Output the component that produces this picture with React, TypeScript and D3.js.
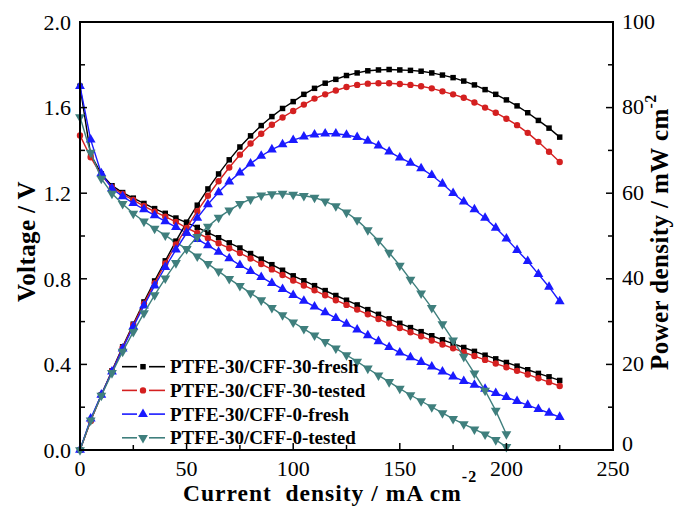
import React from "react";
import * as d3 from "d3";

// current density (mA cm-2)
const current = [
  0, 5, 10, 15, 20, 25, 30, 35, 40, 45, 50, 55, 60, 65, 70, 75, 80, 85, 90, 95,
  100, 105, 110, 115, 120, 125, 130, 135, 140, 145, 150, 155, 160, 165, 170,
  175, 180, 185, 190, 195, 200, 205, 210, 215, 220, 225,
];

// voltage (V)
const voltFresh30 = [
  1.7, 1.38, 1.29, 1.235, 1.203, 1.177, 1.152, 1.128, 1.106, 1.084, 1.063,
  1.04, 1.016, 0.992, 0.968, 0.944, 0.918, 0.892, 0.866, 0.84, 0.814, 0.791,
  0.768, 0.745, 0.722, 0.7, 0.678, 0.656, 0.634, 0.613, 0.592, 0.572, 0.553,
  0.534, 0.515, 0.497, 0.479, 0.461, 0.443, 0.426, 0.409, 0.392, 0.375, 0.358,
  0.342, 0.325,
];
const voltTested30 = [
  1.47, 1.368, 1.283, 1.228, 1.196, 1.168, 1.14, 1.114, 1.09, 1.066, 1.038,
  1.014, 0.99, 0.966, 0.943, 0.92, 0.895, 0.869, 0.844, 0.818, 0.792, 0.769,
  0.746, 0.723, 0.7, 0.678, 0.656, 0.634, 0.612, 0.591, 0.57, 0.55, 0.531,
  0.512, 0.493, 0.475, 0.457, 0.439, 0.421, 0.404, 0.387, 0.37, 0.353, 0.335,
  0.317, 0.299,
];
const voltFresh0 = [
  1.7, 1.45, 1.292, 1.222, 1.185, 1.153, 1.124, 1.096, 1.068, 1.041, 1.014,
  0.985, 0.956, 0.926, 0.895, 0.864, 0.836, 0.808, 0.78, 0.752, 0.724, 0.697,
  0.67, 0.643, 0.616, 0.589, 0.562, 0.535, 0.508, 0.481, 0.455, 0.433, 0.411,
  0.389, 0.366, 0.343, 0.322, 0.304, 0.285, 0.266, 0.247, 0.228, 0.21, 0.191,
  0.173, 0.154,
];
const voltTested0 = [
  1.556, 1.39, 1.268, 1.198, 1.15, 1.105, 1.068, 1.035, 1.003, 0.97, 0.94,
  0.905, 0.87, 0.835, 0.8, 0.767, 0.733, 0.7, 0.664, 0.63, 0.597, 0.566,
  0.536, 0.505, 0.475, 0.444, 0.413, 0.381, 0.349, 0.318, 0.287, 0.257, 0.229,
  0.201, 0.173, 0.146, 0.121, 0.097, 0.073, 0.047, 0.015,
];

// power density (mW cm-2)
const powFresh30 = [
  0, 6.9, 12.9, 18.5, 24.1, 29.4, 34.6, 39.5, 44.2, 48.8, 53.2, 57.2, 61.0,
  64.5, 67.8, 70.8, 73.4, 75.8, 77.9, 79.8, 81.4, 83.1, 84.5, 85.7, 86.6, 87.5,
  88.1, 88.6, 88.8, 88.9, 88.8, 88.7, 88.5, 88.1, 87.6, 87.0, 86.2, 85.3, 84.2,
  83.1, 81.8, 80.4, 78.8, 77.0, 75.2, 73.1,
];
const powTested30 = [
  0, 6.8, 12.8, 18.4, 23.9, 29.2, 34.2, 39.0, 43.6, 48.0, 51.9, 55.8, 59.4,
  62.8, 66.0, 69.0, 71.6, 73.9, 76.0, 77.7, 79.2, 80.7, 82.1, 83.1, 84.0, 84.8,
  85.3, 85.6, 85.7, 85.7, 85.5, 85.3, 85.0, 84.5, 83.8, 83.1, 82.3, 81.2, 80.0,
  78.8, 77.4, 75.9, 74.1, 72.0, 69.7, 67.3,
];
const powFresh0 = [
  0, 7.3, 12.9, 18.3, 23.7, 28.8, 33.7, 38.4, 42.7, 46.8, 50.7, 54.2, 57.4,
  60.2, 62.7, 64.8, 66.9, 68.7, 70.2, 71.4, 72.4, 73.2, 73.7, 73.9, 73.9, 73.6,
  73.1, 72.2, 71.1, 69.7, 68.3, 67.1, 65.8, 64.2, 62.2, 60.0, 58.0, 56.2, 54.2,
  51.9, 49.4, 46.7, 44.1, 41.1, 38.1, 34.7,
];
const powTested0 = [
  0, 6.95, 12.7, 18.0, 23.0, 27.6, 32.0, 36.2, 40.1, 43.7, 47.0, 49.8, 52.2,
  54.3, 56.0, 57.5, 58.6, 59.5, 59.8, 59.9, 59.7, 59.4, 59.0, 58.1, 57.0, 55.5,
  53.7, 51.4, 48.9, 46.1, 43.1, 39.8, 36.6, 33.2, 29.4, 25.6, 21.8, 17.9, 13.9,
  9.2, 3.7,
];

const seriesNames = [
  "PTFE-30/CFF-30-fresh",
  "PTFE-30/CFF-30-tested",
  "PTFE-30/CFF-0-fresh",
  "PTFE-30/CFF-0-tested",
];
const seriesColors = ["#000000", "#d42020", "#1a1aff", "#3f7f7d"];

const xTicks = [0, 50, 100, 150, 200, 250];
const yTicks = [0, 0.4, 0.8, 1.2, 1.6, 2.0];
const y2Ticks = [0, 20, 40, 60, 80, 100];

const W = 686;
const H = 506;
const FONT = '"Liberation Serif", "Times New Roman", serif';
const m = { left: 80, top: 22, right: 613, bottom: 450 };

const x = d3.scaleLinear().domain([0, 250]).range([m.left, m.right]);
const yV = d3.scaleLinear().domain([0, 2]).range([m.bottom, m.top]);
const yP = d3.scaleLinear().domain([0, 100]).range([m.bottom, m.top]);

const symbols = [
  d3.symbol().type(d3.symbolSquare).size(30)(),
  d3.symbol().type(d3.symbolCircle).size(32)(),
  d3.symbol().type(d3.symbolTriangle).size(42)(),
  d3.symbol().type(d3.symbolTriangle).size(42)(),
];
const symRotate = [0, 0, 0, 180];

const volts = [voltFresh30, voltTested30, voltFresh0, voltTested0];
const pows = [powFresh30, powTested30, powFresh0, powTested0];

function Series({ idx, values, scale }) {
  const pts = values.map((v, i) => [x(current[i]), scale(v)]);
  const line = d3.line()(pts);
  return (
    <g>
      <path d={line} fill="none" stroke={seriesColors[idx]} strokeWidth={1.4} />
      {pts.map((p, i) => (
        <path
          key={i}
          d={symbols[idx]}
          fill={seriesColors[idx]}
          transform={`translate(${p[0]},${p[1]}) rotate(${symRotate[idx]})`}
        />
      ))}
    </g>
  );
}

export default function App() {
  const xMinor = d3.range(0, 251, 25);
  const yMinor = d3.range(0, 2.01, 0.2);
  const y2Minor = d3.range(0, 101, 10);
  return (
    <svg
      width={W}
      height={H}
      style={{ position: "absolute", left: 0, top: 0, background: "#fff" }}
      fontFamily={FONT}
    >
      {/* series: voltage then power */}
      {volts.map((v, i) => (
        <Series key={"v" + i} idx={i} values={v} scale={yV} />
      ))}
      {pows.map((p, i) => (
        <Series key={"p" + i} idx={i} values={p} scale={yP} />
      ))}

      {/* frame */}
      <rect
        x={m.left}
        y={m.top}
        width={m.right - m.left}
        height={m.bottom - m.top}
        fill="none"
        stroke="#000"
        strokeWidth={2}
      />

      {/* ticks, inward */}
      {xMinor.map((t) => (
        <line
          key={"xt" + t}
          x1={x(t)}
          x2={x(t)}
          y1={m.bottom}
          y2={m.bottom - (t % 50 === 0 ? 7 : 5)}
          stroke="#000"
          strokeWidth={1.5}
        />
      ))}
      {yMinor.map((t, i) => (
        <line
          key={"yt" + i}
          x1={m.left}
          x2={m.left + (i % 2 === 0 ? 7 : 5)}
          y1={yV(t)}
          y2={yV(t)}
          stroke="#000"
          strokeWidth={1.5}
        />
      ))}
      {y2Minor.map((t) => (
        <line
          key={"y2t" + t}
          x1={m.right}
          x2={m.right - (t % 20 === 0 ? 7 : 5)}
          y1={yP(t)}
          y2={yP(t)}
          stroke="#000"
          strokeWidth={1.5}
        />
      ))}

      {/* tick labels */}
      {xTicks.map((t) => (
        <text key={"xl" + t} x={x(t)} y={476} textAnchor="middle" fontSize={22}>
          {t}
        </text>
      ))}
      {yTicks.map((t) => (
        <text
          key={"yl" + t}
          x={71}
          y={yV(t)}
          dy="0.35em"
          textAnchor="end"
          fontSize={22}
        >
          {t.toFixed(1)}
        </text>
      ))}
      {y2Ticks.map((t) => (
        <text key={"y2l" + t} x={622} y={yP(t)} dy={t === 0 ? "0.05em" : "0.3em"} fontSize={22}>
          {t}
        </text>
      ))}

      {/* axis titles */}
      <text x={183} y={500.5} fontSize={23.5} fontWeight="bold" xmlSpace="preserve" letterSpacing={1}>
        Current  density / mA cm
        <tspan fontSize={16} dy={-19}>
          -2
        </tspan>
      </text>
      <text
        transform="translate(35,302) rotate(-90)"
        fontSize={25}
        fontWeight="bold"
        letterSpacing={0.4}
      >
        Voltage / V
      </text>
      <text
        transform="translate(668,370) rotate(-90)"
        fontSize={25}
        fontWeight="bold"
        letterSpacing={0.4}
      >
        Power density / mW cm
        <tspan fontSize={16} dy={-12}>
          -2
        </tspan>
      </text>

      {/* legend */}
      {seriesNames.map((name, i) => {
        const ly = 366.7 + i * 23.7;
        return (
          <g key={"lg" + i}>
            <line x1={122} x2={137} y1={ly} y2={ly} stroke={seriesColors[i]} strokeWidth={1.6} />
            <line x1={149} x2={165} y1={ly} y2={ly} stroke={seriesColors[i]} strokeWidth={1.6} />
            <path
              d={symbols[i]}
              fill={seriesColors[i]}
              transform={`translate(143,${ly}) rotate(${symRotate[i]})`}
            />
            <text x={170} y={ly} dy="0.35em" fontSize={19} fontWeight="bold">
              {name}
            </text>
          </g>
        );
      })}
    </svg>
  );
}
